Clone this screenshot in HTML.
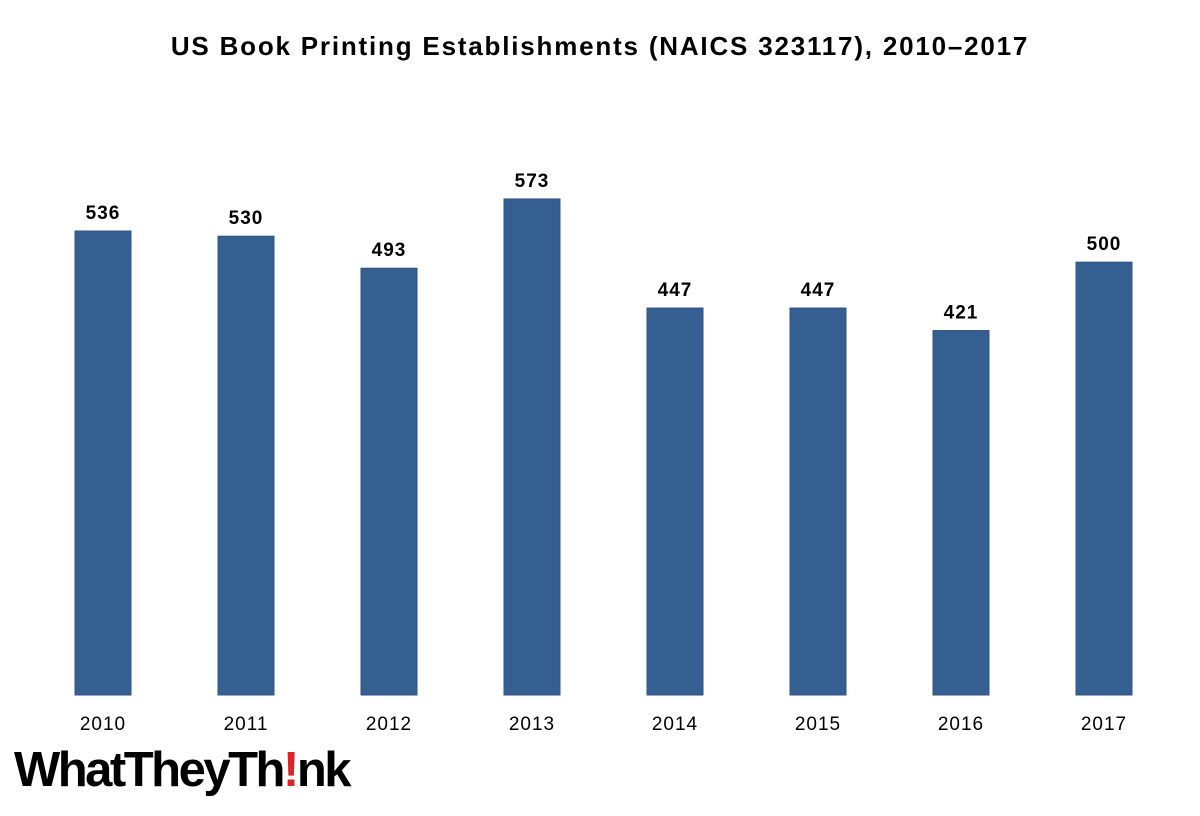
<!DOCTYPE html>
<html><head><meta charset="utf-8">
<style>
html,body{margin:0;padding:0;background:#fff;}
body{width:1200px;height:816px;overflow:hidden;position:relative;font-family:"Liberation Sans",sans-serif;}
#title{position:absolute;left:0;width:1200px;top:31px;text-align:center;font-weight:bold;font-size:26px;letter-spacing:1.8px;color:#000;}
#logo{position:absolute;left:14px;top:742px;font-size:49px;font-weight:bold;letter-spacing:-2.5px;color:#000;font-family:"Liberation Sans",sans-serif;}
#logo .bang{color:#d9252a;}
</style></head>
<body>
<div id="title">US Book Printing Establishments (NAICS 323117), 2010–2017</div>
<svg id="chart" width="1200" height="816" style="position:absolute;left:0;top:0"></svg>
<div id="logo">WhatTheyTh<span class="bang">!</span>nk</div>
<script>
const categories = ["2010","2011","2012","2013","2014","2015","2016","2017"];
const values = [536,530,493,573,447,447,421,500];
const labels = ["536","530","493","573","447","447","421","500"];

const svg = document.getElementById('chart');
const NS = 'http://www.w3.org/2000/svg';
const baseY = 695, scale = 464/536;
const yPos = v => baseY - v*scale;
const xCenter = i => 103 + i*143;
const barW = 56;
categories.forEach((c,i)=>{
  const r = document.createElementNS(NS,'rect');
  r.setAttribute('x', xCenter(i)-barW/2);
  r.setAttribute('y', yPos(values[i]));
  r.setAttribute('width', barW);
  r.setAttribute('height', baseY - yPos(values[i]));
  r.setAttribute('fill', '#365f91');
  r.setAttribute('stroke', '#2f5486');
  r.setAttribute('stroke-width', '1');
  
  
  svg.appendChild(r);
  const t = document.createElementNS(NS,'text');
  t.setAttribute('x', xCenter(i));
  t.setAttribute('y', yPos(values[i]) - 12);
  t.setAttribute('text-anchor','middle');
  t.setAttribute('font-family','Liberation Sans, sans-serif');
  t.setAttribute('font-weight','bold');
  t.setAttribute('font-size','19');
  t.setAttribute('letter-spacing','1');
  t.textContent = labels[i];
  
  
  svg.appendChild(t);
  const x = document.createElementNS(NS,'text');
  x.setAttribute('x', xCenter(i));
  x.setAttribute('y', 730);
  x.setAttribute('text-anchor','middle');
  x.setAttribute('font-family','Liberation Sans, sans-serif');
  x.setAttribute('font-size','19');
  x.setAttribute('letter-spacing','1');
  x.textContent = c;
  
  
  svg.appendChild(x);
});
</script>
</body></html>
